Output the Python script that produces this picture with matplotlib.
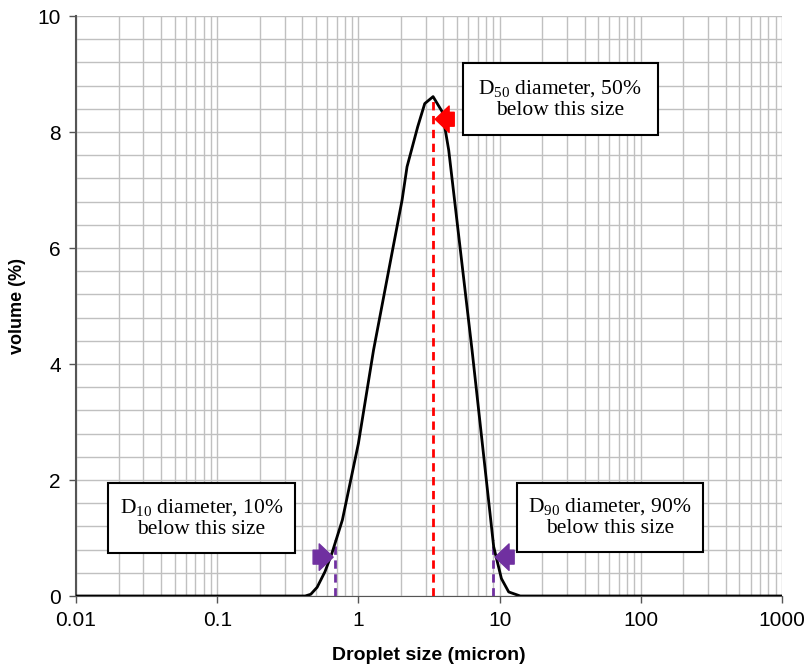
import matplotlib
matplotlib.use('Agg')
import matplotlib.pyplot as plt
from matplotlib.patches import Rectangle
from matplotlib.ticker import LogLocator, MultipleLocator, FuncFormatter

# droplet size distribution
size_um = [0.01, 0.42, 0.46, 0.51, 0.58, 0.65, 0.77, 1.0, 1.28, 2.04, 2.21, 2.63,
           2.95, 3.38, 3.92, 4.36, 6.38, 9.08, 10.3, 11.6, 14.0, 1000]
volume_pct = [0.0, 0.0, 0.03, 0.15, 0.42, 0.74, 1.31, 2.63, 4.24, 6.83, 7.4, 8.09,
              8.49, 8.61, 8.35, 7.69, 4.24, 0.85, 0.3, 0.07, 0.0, 0.0]

# characteristic diameters (micron) and heights of their markers
d_names = ['10', '50', '90']
d_values = [0.68, 3.35, 8.93]
d_heights = [0.97, 8.61, 0.97]
d_colors = ['#7030A0', '#FF0000', '#7030A0']
d_texts = ['D$_{\\mathrm{10}}$ diameter, 10%\nbelow this size',
           'D$_{\\mathrm{50}}$ diameter, 50%\nbelow this size',
           'D$_{\\mathrm{90}}$ diameter, 90%\nbelow this size']

plt.rcParams['font.family'] = ['Liberation Sans', 'DejaVu Sans']
plt.rcParams['mathtext.fontset'] = 'custom'
plt.rcParams['mathtext.rm'] = 'Liberation Serif'

fig = plt.figure(figsize=(8.08, 6.70), dpi=100)
ax = fig.add_axes([76 / 808, 1 - 596 / 670, 706 / 808, 580 / 670])

ax.set_xscale('log')
ax.set_xlim(0.01, 1000)
ax.set_ylim(0, 10)

ax.xaxis.set_major_locator(LogLocator(base=10, numticks=10))
ax.xaxis.set_minor_locator(LogLocator(base=10, subs=range(2, 10), numticks=100))
ax.xaxis.set_major_formatter(FuncFormatter(lambda v, p: '{:g}'.format(v)))
ax.yaxis.set_major_locator(MultipleLocator(2))
ax.yaxis.set_minor_locator(MultipleLocator(0.4))

ax.grid(True, which='both', color='#C0C0C0', linewidth=1.0)
ax.set_axisbelow(True)
for s in ['top', 'right']:
    ax.spines[s].set_visible(False)
ax.spines['left'].set_color('#555555')
ax.spines['left'].set_linewidth(1.5)
ax.spines['bottom'].set_color('#555555')
ax.tick_params(axis='both', which='major', length=5, width=1, color='#555555',
               labelsize=15, pad=6)
ax.tick_params(axis='both', which='minor', length=0)

ax.plot(size_um, volume_pct, color='black', linewidth=2.0, zorder=4)

for i in range(len(d_names)):
    ax.plot([d_values[i], d_values[i]], [0, d_heights[i]], color=d_colors[i],
            linestyle=(0, (3, 2)), linewidth=2.0, zorder=3)

# block arrows pointing at each diameter
arrow_style = 'simple,head_width=19,head_length=10,tail_width=10'
ax.annotate('', xy=(0.662, 0.67), xytext=(-20, 0), textcoords='offset pixels',
            arrowprops=dict(arrowstyle=arrow_style, color=d_colors[0],
                            mutation_scale=1, shrinkA=0, shrinkB=0), zorder=5)
ax.annotate('', xy=(3.5, 8.22), xytext=(19, 0), textcoords='offset pixels',
            arrowprops=dict(arrowstyle=arrow_style, color=d_colors[1],
                            mutation_scale=1, shrinkA=0, shrinkB=0), zorder=5)
ax.annotate('', xy=(9.3, 0.67), xytext=(19, 0), textcoords='offset pixels',
            arrowprops=dict(arrowstyle=arrow_style, color=d_colors[2],
                            mutation_scale=1, shrinkA=0, shrinkB=0), zorder=5)

# label boxes (axes fraction: x0, y0, x1, y1)
boxes = [(0.0458, 0.0736, 0.310, 0.194),
         (0.5477, 0.7948, 0.8239, 0.9184),
         (0.6248, 0.0764, 0.888, 0.1953)]
for (x0, y0, x1, y1), txt in zip(boxes, d_texts):
    ax.add_patch(Rectangle((x0, y0), x1 - x0, y1 - y0, transform=ax.transAxes,
                           facecolor='white', edgecolor='black', linewidth=1.5,
                           zorder=6))
    ax.text((x0 + x1) / 2, (y0 + y1) / 2, txt, transform=ax.transAxes,
            ha='center', va='center', fontsize=15.5, family='Liberation Serif',
            linespacing=1.1, zorder=7)

ax.set_xlabel('Droplet size (micron)', fontsize=14, fontweight='bold', labelpad=12)
ax.set_ylabel('volume (%)', fontsize=13, fontweight='bold', labelpad=8)

fig.savefig('out.png', dpi=100)
